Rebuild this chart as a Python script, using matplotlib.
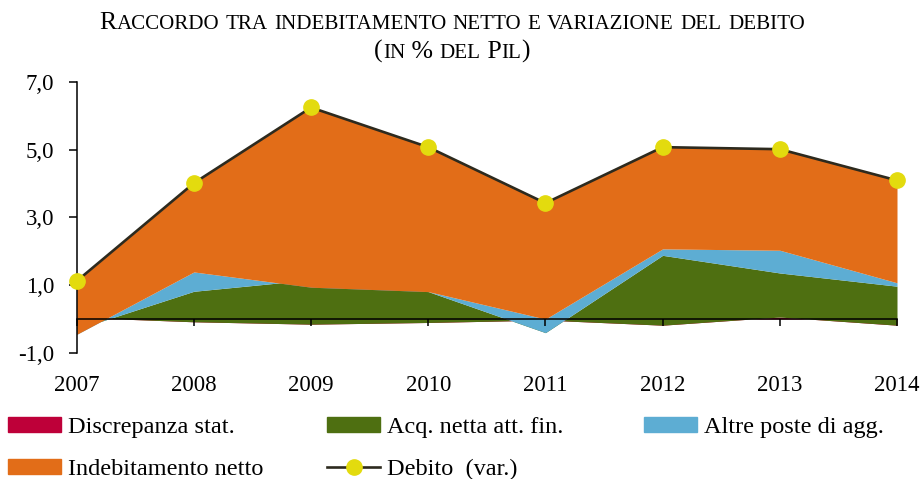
import matplotlib
matplotlib.use("Agg")
import matplotlib.pyplot as plt
import numpy as np
from matplotlib.patches import Patch
from matplotlib.lines import Line2D
from matplotlib.ticker import FuncFormatter

plt.rcParams["font.family"] = ["Liberation Serif", "DejaVu Serif"]

# data (% of GDP)
years = [2007, 2008, 2009, 2010, 2011, 2012, 2013, 2014]
discrepanza = [0.05, -0.08, -0.15, -0.10, -0.03, -0.18, 0.06, -0.18]
acq_netta = [-0.35, 0.90, 1.31, 0.91, -0.37, 2.06, 1.30, 1.15]
altre_poste = [-0.15, 0.57, -0.22, 0.00, 0.40, 0.19, 0.67, 0.10]
indebitamento = [1.57, 2.62, 5.30, 4.26, 3.42, 3.00, 2.98, 3.02]
debito = [1.12, 4.01, 6.24, 5.07, 3.42, 5.07, 5.01, 4.09]

labels = ["Discrepanza stat.", "Acq. netta att. fin.", "Altre poste di agg.",
          "Indebitamento netto", "Debito  (var.)"]
colors = ["#BE0039", "#4E6F11", "#5DADD3", "#E26D18"]
line_color = "#2D2A1E"
marker_color = "#E3DB0E"

W, H = 922, 479
fig = plt.figure(figsize=(W / 100, H / 100), dpi=100)
ax = fig.add_axes([76.7 / W, 1 - 353 / H, (897 - 76.7) / W, (353 - 81.7) / H])

# stacked areas, drawn like Excel (later series on top)
x = np.array(years)
series = [discrepanza, acq_netta, altre_poste, indebitamento]
base = np.zeros(len(years))
for i, s in enumerate(series):
    top = base + np.array(s)
    ax.fill_between(x, base, top, color=colors[i], linewidth=0, zorder=1 + i * 0.1)
    base = top

ax.plot(x, debito, color=line_color, lw=1.9, marker="o", ms=11,
        mfc=marker_color, mec=marker_color, zorder=4, clip_on=False)

ax.set_xlim(2007, 2014)
ax.set_ylim(-1, 7)
ax.set_yticks([-1, 1, 3, 5, 7])
ax.set_xticks(years)
ax.yaxis.set_major_formatter(FuncFormatter(lambda v, p: f"{v:.1f}".replace(".", ",")))

for side in ["top", "right"]:
    ax.spines[side].set_visible(False)
ax.spines["bottom"].set_position(("data", 0))
ax.spines["bottom"].set_zorder(3)
for side in ["left", "bottom"]:
    ax.spines[side].set_linewidth(1.1)
    ax.spines[side].set_color("black")
ax.tick_params(axis="y", direction="out", length=6, width=1.1, pad=10, labelsize=16.5)
ax.tick_params(axis="x", direction="out", length=5, width=1.1, pad=35, labelsize=16.5)

# title in small caps
def small_caps_line(text, y_px, big=18.5, small=15.1, xc=452):
    renderer = fig.canvas.get_renderer()
    runs = []
    for ch in text:
        sz = small if ch.islower() else big
        if runs and runs[-1][1] == sz:
            runs[-1][0] += ch.upper()
        else:
            runs.append([ch.upper(), sz])
    items = []
    xpos = 0
    for s, sz in runs:
        t = fig.text(0, 1 - y_px / H, s, fontsize=sz, va="baseline", ha="left")
        w = t.get_window_extent(renderer).width
        items.append((t, xpos))
        xpos += w
    x0 = xc - xpos / 2
    for t, off in items:
        t.set_x((x0 + off) / W)

small_caps_line("Raccordo tra indebitamento netto e variazione del debito", 29)
small_caps_line("(in % del Pil)", 58)

# legend, one block per column
handles = [Patch(color=colors[0]), Patch(color=colors[1]), Patch(color=colors[2]),
           Patch(color=colors[3]),
           Line2D([], [], color=line_color, lw=1.9, marker="o", ms=11,
                  mfc=marker_color, mec=marker_color)]
columns = [([0, 3], 8), ([1, 4], 327), ([2], 644)]
for idx, xpx in columns:
    fig.legend([handles[i] for i in idx], [labels[i] for i in idx],
               loc="upper left", bbox_to_anchor=(xpx / W, 1 - 417 / H),
               frameon=False, fontsize=17.5, borderpad=0, borderaxespad=0,
               handlelength=2.2, handleheight=0.58, handletextpad=0.25,
               labelspacing=0.85)

fig.savefig("out.png", dpi=100)
